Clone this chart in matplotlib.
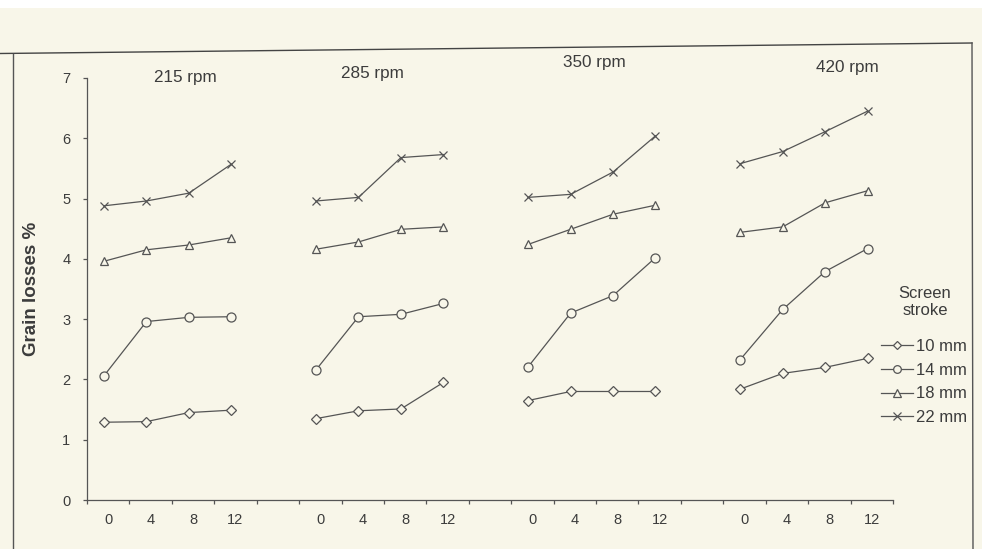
import numpy as np
import matplotlib
matplotlib.use("Agg")
from matplotlib import pyplot as plt
from matplotlib.lines import Line2D
from matplotlib.patches import Rectangle

speeds = ["215 rpm", "285 rpm", "350 rpm", "420 rpm"]
strokes = ["0", "4", "8", "12"]
series_names = ["10 mm", "14 mm", "18 mm", "22 mm"]

# grain losses %, one row per screen stroke, one list per speed
loss_10mm = [[1.29, 1.30, 1.45, 1.49], [1.35, 1.48, 1.51, 1.95],
             [1.65, 1.80, 1.80, 1.80], [1.84, 2.10, 2.20, 2.35]]
loss_14mm = [[2.06, 2.96, 3.03, 3.04], [2.16, 3.04, 3.08, 3.26],
             [2.21, 3.10, 3.39, 4.02], [2.33, 3.16, 3.79, 4.17]]
loss_18mm = [[3.96, 4.15, 4.23, 4.35], [4.16, 4.28, 4.49, 4.53],
             [4.24, 4.49, 4.74, 4.89], [4.44, 4.53, 4.93, 5.13]]
loss_22mm = [[4.88, 4.96, 5.09, 5.57], [4.96, 5.02, 5.68, 5.73],
             [5.02, 5.07, 5.44, 6.04], [5.58, 5.78, 6.11, 6.45]]

PAPER = "#f8f6e9"
INK = "#555555"
TEXT = "#3c3c3c"
FONT = ["Liberation Sans", "DejaVu Sans"]
plt.rcParams["font.family"] = FONT

series = [loss_10mm, loss_14mm, loss_18mm, loss_22mm]
markers = [("D", 4.6), ("o", 6.5), ("^", 6.0), ("x", 6.0)]

fig = plt.figure(figsize=(9.82, 5.49), dpi=100)
fig.patch.set_facecolor(PAPER)
# white strip at the top of the scan
fig.add_artist(Rectangle((0, 1 - 8 / 549), 1, 8 / 549, transform=fig.transFigure,
                         color="white", lw=0))

ax = fig.add_axes([87 / 982, 49 / 549, 806 / 982, 422 / 549])
ax.set_facecolor(PAPER)

gap = 5  # slots between group starts
shift = -0.1
for g, speed in enumerate(speeds):
    xs = np.arange(len(strokes)) + g * gap + shift
    for s, vals in enumerate(series):
        m, ms = markers[s]
        ax.plot(xs, vals[g], color=INK, lw=0.9, marker=m, ms=ms,
                mfc=PAPER, mec=INK, mew=0.9,
                label=series_names[s] if g == 0 else None)

title_pos = [(1.82, 7.01), (6.23, 7.08), (11.47, 7.26), (17.43, 7.18)]
for (tx, ty), speed in zip(title_pos, speeds):
    ax.text(tx, ty, speed, ha="center", va="center", fontsize=12.3,
            color=TEXT, clip_on=False)

label_pos = np.concatenate([np.arange(4) + g * gap for g in range(4)])
ax.set_xticks(label_pos)
ax.set_xticklabels(strokes * 4)
ax.set_xticks(np.arange(-0.5, 19, 1), minor=True)
ax.tick_params(axis="x", which="major", length=0, pad=9, labelsize=10.5,
               labelcolor=TEXT)
ax.tick_params(axis="x", which="minor", length=3, width=0.9, color=INK,
               direction="out")
ax.set_xlim(-0.5, 18.5)
ax.set_ylim(0, 7)
ax.set_yticks(range(8))
ax.tick_params(axis="y", length=3, width=0.9, color=INK, labelsize=10.5,
               labelcolor=TEXT, pad=9)
for side in ["top", "right"]:
    ax.spines[side].set_visible(False)
for side in ["left", "bottom"]:
    ax.spines[side].set_color(INK)
    ax.spines[side].set_linewidth(0.9)
ax.set_ylabel("Grain losses %", fontsize=13.5, color=TEXT, labelpad=16,
              fontweight="bold")

fig.text(925 / 982, 1 - 302 / 549, "Screen\nstroke", ha="center", va="center",
         multialignment="center", fontsize=12, color=TEXT, linespacing=1.2)
leg = fig.legend(loc="upper left", bbox_to_anchor=(866 / 982, 1 - 324 / 549),
                 frameon=False, fontsize=12, handlelength=1.9,
                 handletextpad=0.2, labelspacing=0.52, markerscale=0.85)
for t in leg.get_texts():
    t.set_color(TEXT)

# scan page frame
fig.add_artist(Line2D([0, 972 / 982], [1 - 53.5 / 549, 1 - 43 / 549],
                      transform=fig.transFigure, color="#444444", lw=1))
fig.add_artist(Line2D([972 / 982, 973 / 982], [1 - 43 / 549, 0],
                      transform=fig.transFigure, color="#555555", lw=1))
fig.add_artist(Line2D([12.5 / 982, 12.5 / 982], [1 - 53.5 / 549, 0],
                      transform=fig.transFigure, color="#555555", lw=1))

fig.savefig("out.png", dpi=100, facecolor=PAPER)
